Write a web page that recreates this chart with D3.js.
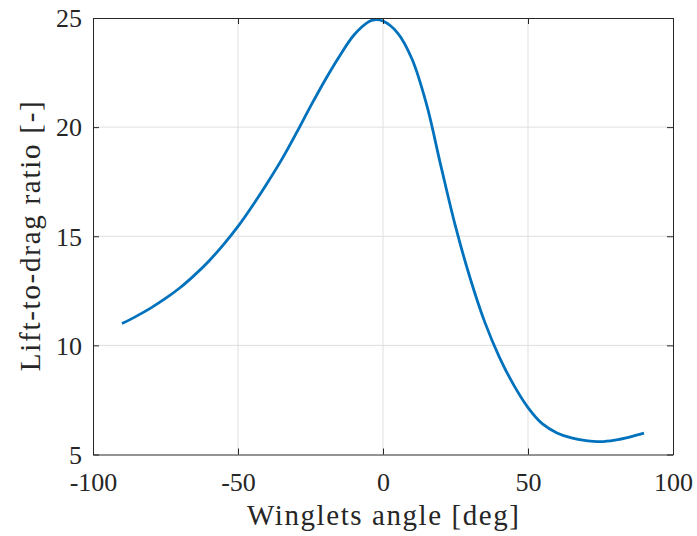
<!DOCTYPE html>
<html>
<head>
<meta charset="utf-8">
<script src="https://cdn.jsdelivr.net/npm/d3@7"></script>
<style>
  html, body { margin: 0; padding: 0; background: #fff; }
  svg { display: block; }
  text { font-family: "Liberation Serif", "DejaVu Serif", serif; fill: #262626; }
</style>
</head>
<body>
<svg id="chart" width="697" height="536"></svg>
<script>
// Winglet angle sweep [deg]
const angles = [-90, -85, -80, -75, -70, -65, -60, -55, -50, -45, -40, -35, -30, -25, -20, -15, -10, -5, -3, 0, 5, 10, 15, 20, 25, 30, 35, 40, 45, 50, 55, 60, 65, 70, 75, 80, 85, 90];
// Lift-to-drag ratio at each angle
const liftToDrag = [11.0, 11.34, 11.72, 12.15, 12.64, 13.22, 13.87, 14.62, 15.45, 16.40, 17.42, 18.50, 19.70, 20.95, 22.15, 23.25, 24.22, 24.82, 24.92, 24.86, 24.32, 23.12, 21.05, 18.2, 15.45, 13.1, 11.1, 9.5, 8.2, 7.15, 6.4, 5.99, 5.76, 5.64, 5.59, 5.66, 5.8, 5.98];
const xTicks = [-100, -50, 0, 50, 100];
const yTicks = [5, 10, 15, 20, 25];

const svg = d3.select("#chart");
const plotL = 93, plotR = 673, plotT = 18, plotB = 454.5;

const x = d3.scaleLinear().domain([-100, 100]).range([plotL, plotR]);
const y = d3.scaleLinear().domain([5, 25]).range([plotB, plotT]);

const axisColor = "#262626";
const gridColor = "#dfdfdf";

// grid
svg.append("g").selectAll("line").data(xTicks.slice(1, -1)).join("line")
  .attr("x1", d => x(d)).attr("x2", d => x(d))
  .attr("y1", plotT).attr("y2", plotB)
  .attr("stroke", gridColor).attr("stroke-width", 1);
svg.append("g").selectAll("line").data(yTicks.slice(1, -1)).join("line")
  .attr("y1", d => y(d)).attr("y2", d => y(d))
  .attr("x1", plotL).attr("x2", plotR)
  .attr("stroke", gridColor).attr("stroke-width", 1);

// data line
const line = d3.line()
  .x((d, i) => x(angles[i]))
  .y(d => y(d))
  .curve(d3.curveCatmullRom.alpha(0.5));

svg.append("path")
  .datum(liftToDrag)
  .attr("d", line)
  .attr("fill", "none")
  .attr("stroke", "#0072BD")
  .attr("stroke-width", 2.8)
  .attr("stroke-linejoin", "round")
  .attr("stroke-linecap", "butt");

// axes: inward ticks on all four sides
const tickLen = 6;
const fontSize = 26;

const xAxisB = d3.axisBottom(x).tickValues(xTicks).tickSizeInner(-tickLen).tickSizeOuter(0);
const xAxisT = d3.axisTop(x).tickValues(xTicks).tickSizeInner(-tickLen).tickSizeOuter(0).tickFormat("");
const yAxisL = d3.axisLeft(y).tickValues(yTicks).tickSizeInner(-tickLen).tickSizeOuter(0);
const yAxisR = d3.axisRight(y).tickValues(yTicks).tickSizeInner(-tickLen).tickSizeOuter(0).tickFormat("");

function style(g) {
  g.select(".domain").attr("stroke", axisColor).attr("stroke-width", 1);
  g.selectAll(".tick line").attr("stroke", axisColor).attr("stroke-width", 1);
  g.selectAll(".tick text").attr("fill", axisColor)
    .style("font-family", '"Liberation Serif", "DejaVu Serif", serif')
    .style("font-size", fontSize + "px");
}

svg.append("g").attr("transform", `translate(0,${plotB})`).call(xAxisB).call(style)
  .selectAll(".tick text")
  .attr("y", 491 - plotB).attr("dy", 0)
  .text(d => d < 0 ? "-" + Math.abs(d) : d);
svg.append("g").attr("transform", `translate(0,${plotT})`).call(xAxisT).call(style);
svg.append("g").attr("transform", `translate(${plotL},0)`).call(yAxisL).call(style)
  .selectAll(".tick text").attr("x", -11).attr("dy", "0.34em");
svg.append("g").attr("transform", `translate(${plotR},0)`).call(yAxisR).call(style);

// axis titles
svg.append("text")
  .attr("x", (plotL + plotR) / 2)
  .attr("y", 525)
  .attr("text-anchor", "middle")
  .attr("textLength", 272)
  .attr("lengthAdjust", "spacing")
  .style("font-size", "29px")
  .text("Winglets angle [deg]");

svg.append("text")
  .attr("transform", `translate(40,${(plotT + plotB) / 2}) rotate(-90)`)
  .attr("text-anchor", "middle")
  .attr("textLength", 270)
  .attr("lengthAdjust", "spacing")
  .style("font-size", "29px")
  .text("Lift-to-drag ratio [-]");
</script>
</body>
</html>
